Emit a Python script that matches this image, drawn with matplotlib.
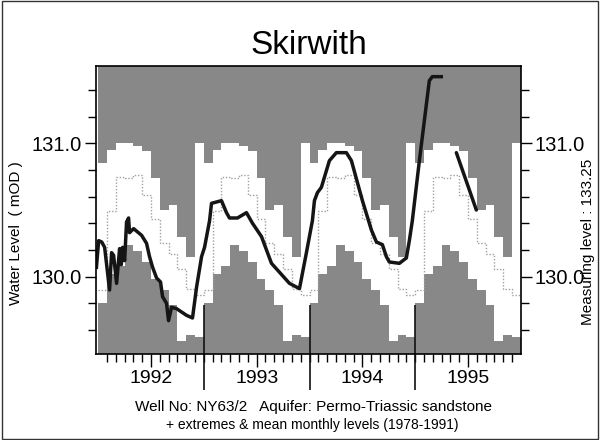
import numpy as np
import matplotlib.pyplot as plt
import matplotlib.transforms as mtransforms

#---
#       DATA
#---
years = [1992, 1993, 1994, 1995]

# monthly extremes & mean 1978-1991, Jan..Dec (mOD)
max_level = [130.85, 130.95, 131.00, 131.00, 130.98, 130.94,
             130.74, 130.50, 130.54, 130.30, 130.15, 131.00]
min_level = [129.80, 130.02, 130.08, 130.24, 130.19, 130.11,
             129.98, 129.90, 129.79, 129.52, 129.56, 129.55]
mean_level = [129.90, 130.49, 130.75, 130.74, 130.76, 130.61,
              130.43, 130.25, 130.17, 130.06, 129.91, 129.86]

# observed levels, months since 1 Jan 1992
obs_month = [-0.2, 0.05, 0.4, 0.73, 1.29, 1.52, 1.75, 2.09, 2.43, 2.62, 2.77, 3.0,
             3.22, 3.45, 3.56, 4.02, 4.93, 5.49, 5.83, 6.18, 6.63, 7.08, 7.31,
             7.76, 7.99, 8.33, 8.9, 10.03, 10.71, 11.17, 11.74, 12.08, 12.65,
             12.87, 14.0, 14.57, 14.91, 15.82, 16.84, 17.53, 18.55, 19.68,
             21.72, 22.86, 23.65, 24.33, 24.56, 24.9, 25.35, 26.26, 27.05,
             28.19, 28.76, 30.01, 31.03, 31.6, 32.28, 32.73, 33.07, 34.21,
             35.0, 35.34, 35.68, 36.48, 37.61, 37.95, 38.97]
obs_level = [130.07, 130.27, 130.26, 130.22, 129.90, 130.18, 130.16, 129.95,
             130.21, 130.09, 130.22, 130.12, 130.41, 130.44, 130.33, 130.36,
             130.31, 130.25, 130.15, 130.07, 129.99, 129.96, 129.85, 129.80,
             129.67, 129.77, 129.76, 129.71, 129.69, 129.92, 130.15, 130.22,
             130.42, 130.55, 130.57, 130.48, 130.44, 130.44, 130.48, 130.40,
             130.30, 130.10, 129.95, 129.91, 130.18, 130.42, 130.57, 130.63,
             130.67, 130.87, 130.93, 130.93, 130.87, 130.57, 130.35, 130.26,
             130.24, 130.15, 130.11, 130.10, 130.14, 130.27, 130.42, 130.87,
             131.47, 131.50, 131.50]
# short piece later in 1995
obs2_month = [40.68, 42.95]
obs2_level = [130.93, 130.50]

#---
#       PLOT
#---
FONT = 'Liberation Sans'
ymin, ymax = 129.42, 131.58
nm = 12 * len(years)
edges = np.arange(nm + 1)
mx = np.tile(max_level, len(years))
mn = np.tile(min_level, len(years))
me = np.tile(mean_level, len(years))
mx = np.append(mx, mx[-1])
mn = np.append(mn, mn[-1])
me = np.append(me, me[-1])

fig = plt.figure(figsize=(6, 4.4), dpi=100)
fig.set_facecolor('white')
ax = fig.add_axes([0.16, 0.1955, 0.708, 0.6545])

gray = '#888888'
ax.fill_between(edges, mx, ymax, step='post', color=gray, lw=0)
ax.fill_between(edges, ymin, mn, step='post', color=gray, lw=0)
ax.step(edges, me, where='post', color='#a0a0a0', lw=1, ls=(0, (1, 1.3)))

ax.plot(obs_month, obs_level, color='#151515', lw=2.5, solid_joinstyle='round')
ax.plot(obs2_month, obs2_level, color='#151515', lw=2.5, solid_capstyle='round')

ax.set_xlim(-0.25, nm)
ax.set_ylim(ymin, ymax)

# x ticks: months (minor), mid-year labelled
ax.set_xticks([12 * i + 6 for i in range(len(years))])
ax.set_xticklabels([str(y) for y in years], fontsize=14, family=FONT)
ax.set_xticks(np.arange(1, nm), minor=True)
ax.tick_params(axis='x', which='major', direction='out', length=9.5, width=1, pad=2)
ax.tick_params(axis='x', which='minor', direction='out', length=5.5, width=1)

# year boundary lines
trans = mtransforms.blended_transform_factory(ax.transData, ax.transAxes)
ax.vlines([12, 24, 36], -0.125, 0.17, transform=trans, color='#111111', lw=1.2, clip_on=False)

# y ticks on both sides
ax.set_yticks([130.0, 131.0])
ax.set_yticklabels(['130.0', '131.0'], fontsize=14.5, family=FONT)
ax.set_yticks(np.arange(129.6, 131.5, 0.2), minor=True)
ax.tick_params(axis='y', which='both', direction='out', left=True, right=True,
               labelleft=True, labelright=True, width=1)
ax.tick_params(axis='y', which='major', length=8, pad=2)
ax.tick_params(axis='y', which='minor', length=6)
for s in ax.spines.values():
    s.set_linewidth(1.2)

ax.set_title('Skirwith', fontsize=24, family=FONT, pad=9)

fig.text(0.027, 0.47, 'Water Level  ( mOD )', rotation=90, ha='center', va='center',
         fontsize=11, family=FONT)
fig.text(0.98, 0.45, 'Measuring level : 133.25', rotation=90, ha='center', va='center',
         fontsize=11, family=FONT)
fig.text(0.523, 0.075, 'Well No: NY63/2   Aquifer: Permo-Triassic sandstone',
         ha='center', va='center', fontsize=11, family=FONT)
fig.text(0.52, 0.034, '+ extremes & mean monthly levels (1978-1991)',
         ha='center', va='center', fontsize=10, family=FONT)

fig.patches.append(plt.Rectangle((0.003, 0.003), 0.994, 0.994, transform=fig.transFigure,
                                 fill=False, edgecolor='#333333', lw=1))

fig.savefig('out.png', dpi=100)
